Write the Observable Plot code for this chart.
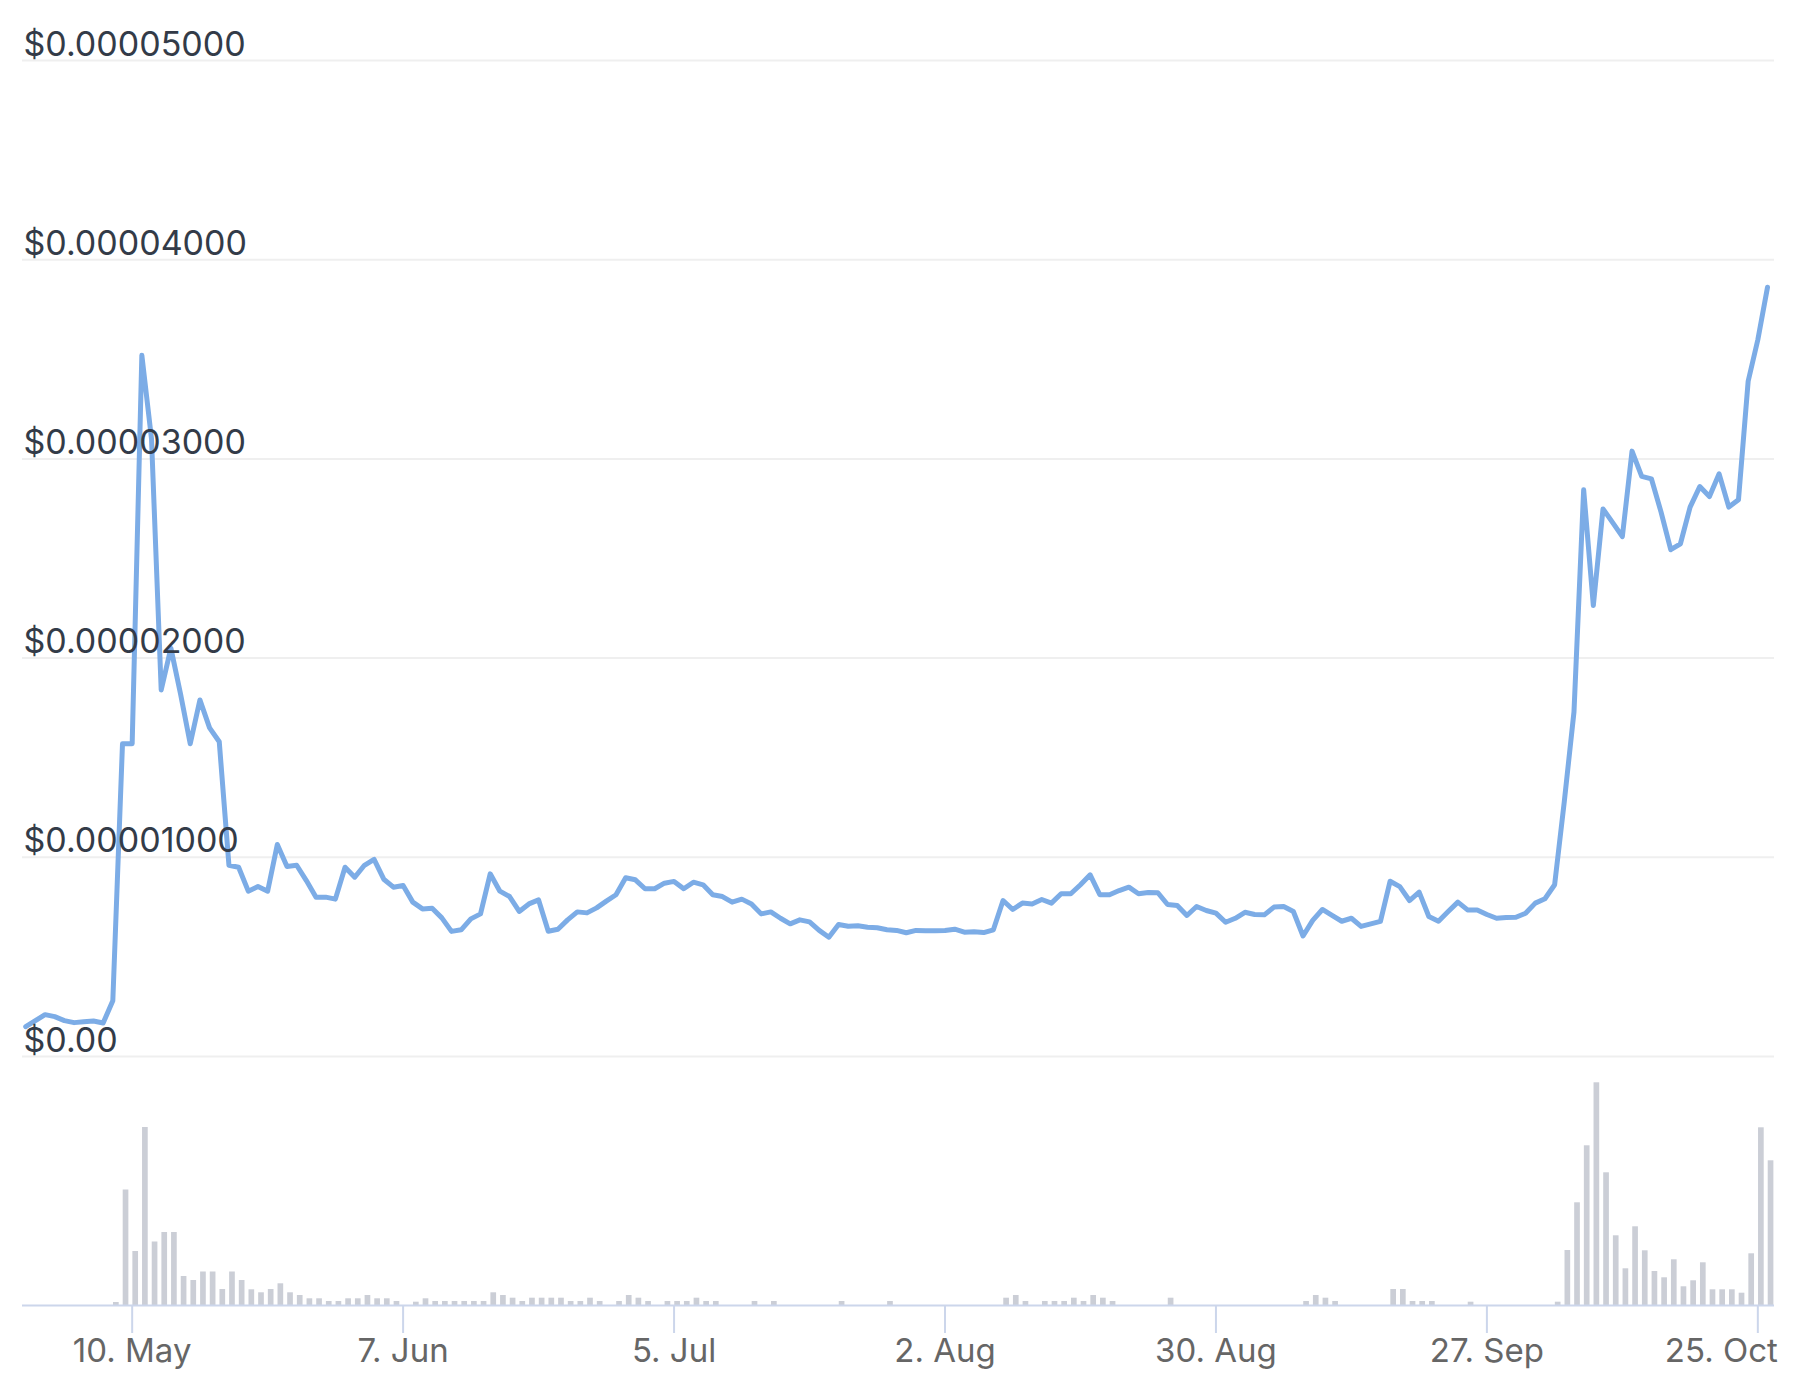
<!DOCTYPE html>
<html>
<head>
<meta charset="utf-8">
<script src="https://cdn.jsdelivr.net/npm/d3@7"></script>
<script src="https://cdn.jsdelivr.net/npm/@observablehq/plot@0.6"></script>
<style>
  html, body { margin: 0; padding: 0; background: #ffffff; }
  #chart { position: relative; width: 1802px; height: 1388px; font-family: Inter, "Liberation Sans", sans-serif; }
  #chart svg { position: absolute; left: 0; max-width: none; }
</style>
</head>
<body>
<div id="chart"></div>
<script>
// ---- data ----
const startDate = Date.UTC(2021, 3, 29); // first daily point (29 Apr)

// daily price, in units of 0.00001 USD
const priceE5 = [
  0.15, 0.18, 0.21, 0.20, 0.18, 0.17, 0.175, 0.178, 0.168, 0.28,
  1.57, 1.57, 3.52, 3.10, 1.84, 2.05, 1.82, 1.57, 1.79, 1.65,
  1.58, 0.96, 0.95, 0.83, 0.853, 0.83, 1.064, 0.954, 0.96, 0.883,
  0.80, 0.80, 0.79, 0.95, 0.90, 0.96, 0.99, 0.89, 0.85, 0.858,
  0.775, 0.741, 0.744, 0.696, 0.628, 0.636, 0.691, 0.716, 0.917, 0.830,
  0.803, 0.728, 0.766, 0.786, 0.629, 0.639, 0.686, 0.726, 0.721, 0.746,
  0.780, 0.812, 0.897, 0.887, 0.842, 0.842, 0.870, 0.879, 0.842, 0.875,
  0.862, 0.812, 0.803, 0.775, 0.790, 0.766, 0.716, 0.726, 0.694, 0.666,
  0.686, 0.676, 0.633, 0.599, 0.663, 0.654, 0.656, 0.649, 0.646, 0.636,
  0.633, 0.621, 0.633, 0.631, 0.631, 0.633, 0.639, 0.624, 0.626, 0.622,
  0.636, 0.783, 0.738, 0.770, 0.766, 0.788, 0.770, 0.817, 0.817, 0.862,
  0.912, 0.812, 0.812, 0.833, 0.850, 0.817, 0.823, 0.822, 0.763, 0.758,
  0.708, 0.753, 0.733, 0.720, 0.674, 0.694, 0.724, 0.713, 0.711, 0.750,
  0.753, 0.728, 0.605, 0.683, 0.738, 0.708, 0.679, 0.694, 0.653, 0.666,
  0.678, 0.880, 0.853, 0.783, 0.825, 0.703, 0.679, 0.728, 0.775, 0.736,
  0.736, 0.713, 0.694, 0.698, 0.699, 0.719, 0.770, 0.792, 0.862, 1.28,
  1.73, 2.845, 2.264, 2.749, 2.68, 2.61, 3.039, 2.912, 2.90, 2.733,
  2.544, 2.574, 2.758, 2.861, 2.811, 2.925, 2.758, 2.795, 3.39, 3.598,
  3.862
];

// daily volume (relative units, no axis labels in the original)
const volume = [
  0, 0, 0, 0, 0, 0, 0, 0, 0, 3,
  115.5, 54, 178, 63.5, 73, 73, 29, 25, 33.5, 33.5,
  16, 33.5, 25, 15.7, 12.7, 16, 21.7, 12.7, 10, 6.7,
  6.7, 4, 4, 6.7, 6.7, 10, 6.7, 6.7, 4, 0,
  3.3, 6.7, 4, 4, 4, 4, 4, 4, 12.7, 10,
  7.3, 4, 7.3, 7.3, 7.3, 7.3, 4, 4, 7.3, 4,
  0, 4, 10, 7.3, 4, 0, 4, 4, 4, 7.3,
  4, 4, 0, 0, 0, 4, 0, 4, 0, 0,
  0, 0, 0, 0, 4, 0, 0, 0, 0, 4,
  0, 0, 0, 0, 0, 0, 0, 0, 0, 0,
  0, 7.3, 10, 4, 0, 4, 4, 4, 7.3, 4,
  10, 7.3, 4, 0, 0, 0, 0, 0, 7.3, 0,
  0, 0, 0, 0, 0, 0, 0, 0, 0, 0,
  0, 0, 4, 10, 7.3, 4, 0, 0, 0, 0,
  0, 16, 16, 4, 4, 4, 0, 0, 0, 3.3,
  0, 0, 0, 0, 0, 0, 0, 0, 3.3, 55,
  102.7, 159.7, 222.7, 132.7, 69.7, 36.7, 78.7, 54.7, 34, 27.7,
  45.7, 18.7, 24.7, 42.7, 15.7, 15.7, 15.7, 12.3, 51.7, 177.7,
  144.7
];

const yTicks = [0, 0.00001, 0.00002, 0.00003, 0.00004, 0.00005];
const yTickLabels = ["$0.00", "$0.00001000", "$0.00002000", "$0.00003000", "$0.00004000", "$0.00005000"];

const xTickDates = [
  Date.UTC(2021, 4, 10), Date.UTC(2021, 5, 7), Date.UTC(2021, 6, 5), Date.UTC(2021, 7, 2),
  Date.UTC(2021, 7, 30), Date.UTC(2021, 8, 27), Date.UTC(2021, 9, 25)
];
const xTickLabels = ["10. May", "7. Jun", "5. Jul", "2. Aug", "30. Aug", "27. Sep", "25. Oct"];

const xDomain = [new Date(Date.UTC(2021, 3, 28, 16)), new Date(Date.UTC(2021, 9, 26, 17, 20))];

// ---- build tables ----
const DAY = 864e5;
const priceData = priceE5.map((v, i) => ({ date: new Date(startDate + i * DAY), price: v * 1e-5 }));
const volData = volume.map((v, i) => ({
  date: new Date(startDate + i * DAY),
  next: new Date(startDate + (i + 1) * DAY),
  vol: v
}));
const xTicks = xTickDates.map((t, i) => ({ date: new Date(t), label: xTickLabels[i] }));
const innerTicks = xTicks.slice(0, -1);
const lastTick = xTicks.slice(-1);

const font = "Inter, 'Liberation Sans', sans-serif";

const pricePlot = Plot.plot({
  width: 1802,
  height: 1062,
  marginLeft: 22,
  marginRight: 28,
  marginTop: 60,
  marginBottom: 6,
  style: { fontFamily: font, background: "transparent", overflow: "visible" },
  x: { type: "utc", domain: xDomain, axis: null },
  y: { domain: [0, 0.00005], axis: null },
  marks: [
    Plot.ruleY(yTicks, { stroke: "#efefef", strokeWidth: 2 }),
    Plot.line(priceData, {
      x: "date", y: "price", stroke: "#7cace6", strokeWidth: 5,
      strokeLinejoin: "round", strokeLinecap: "round"
    }),
    Plot.text(yTicks, {
      y: d => d,
      text: (d, i) => yTickLabels[i],
      frameAnchor: "left",
      textAnchor: "start",
      lineAnchor: "bottom",
      dx: 1,
      dy: -5,
      fontSize: 34,
      fill: "#333b48"
    })
  ]
});

const volumePlot = Plot.plot({
  width: 1802,
  height: 326,
  marginLeft: 22,
  marginRight: 28,
  marginTop: 13,
  marginBottom: 83,
  style: { fontFamily: font, background: "transparent", overflow: "visible" },
  x: { type: "utc", domain: xDomain },
  y: { domain: [0, 230], axis: null },
  marks: [
    Plot.rectY(volData, {
      x1: "date", x2: "next", y: "vol", fill: "#cbced6",
      insetLeft: 0.7, insetRight: 3.3
    }),
    Plot.ruleY([0], { stroke: "#ccd6eb", strokeWidth: 2 }),
    Plot.axisX({
      ticks: xTicks.map(d => d.date),
      tickFormat: () => "",
      tickSize: 28,
      tickPadding: 4,
      stroke: "#ccd6eb",
      strokeWidth: 2
    }),
    Plot.text(innerTicks, {
      x: "date", text: "label",
      frameAnchor: "bottom", lineAnchor: "top", textAnchor: "middle",
      dy: 33, fontSize: 33, fill: "#666666"
    }),
    Plot.text(lastTick, {
      x: "date", text: "label",
      frameAnchor: "bottom", lineAnchor: "top", textAnchor: "end",
      dx: 20, dy: 33, fontSize: 33, fill: "#666666"
    })
  ]
});

const chart = document.getElementById("chart");
pricePlot.style.top = "0px";
volumePlot.style.top = "1062px";
chart.appendChild(pricePlot);
chart.appendChild(volumePlot);
</script>
</body>
</html>
